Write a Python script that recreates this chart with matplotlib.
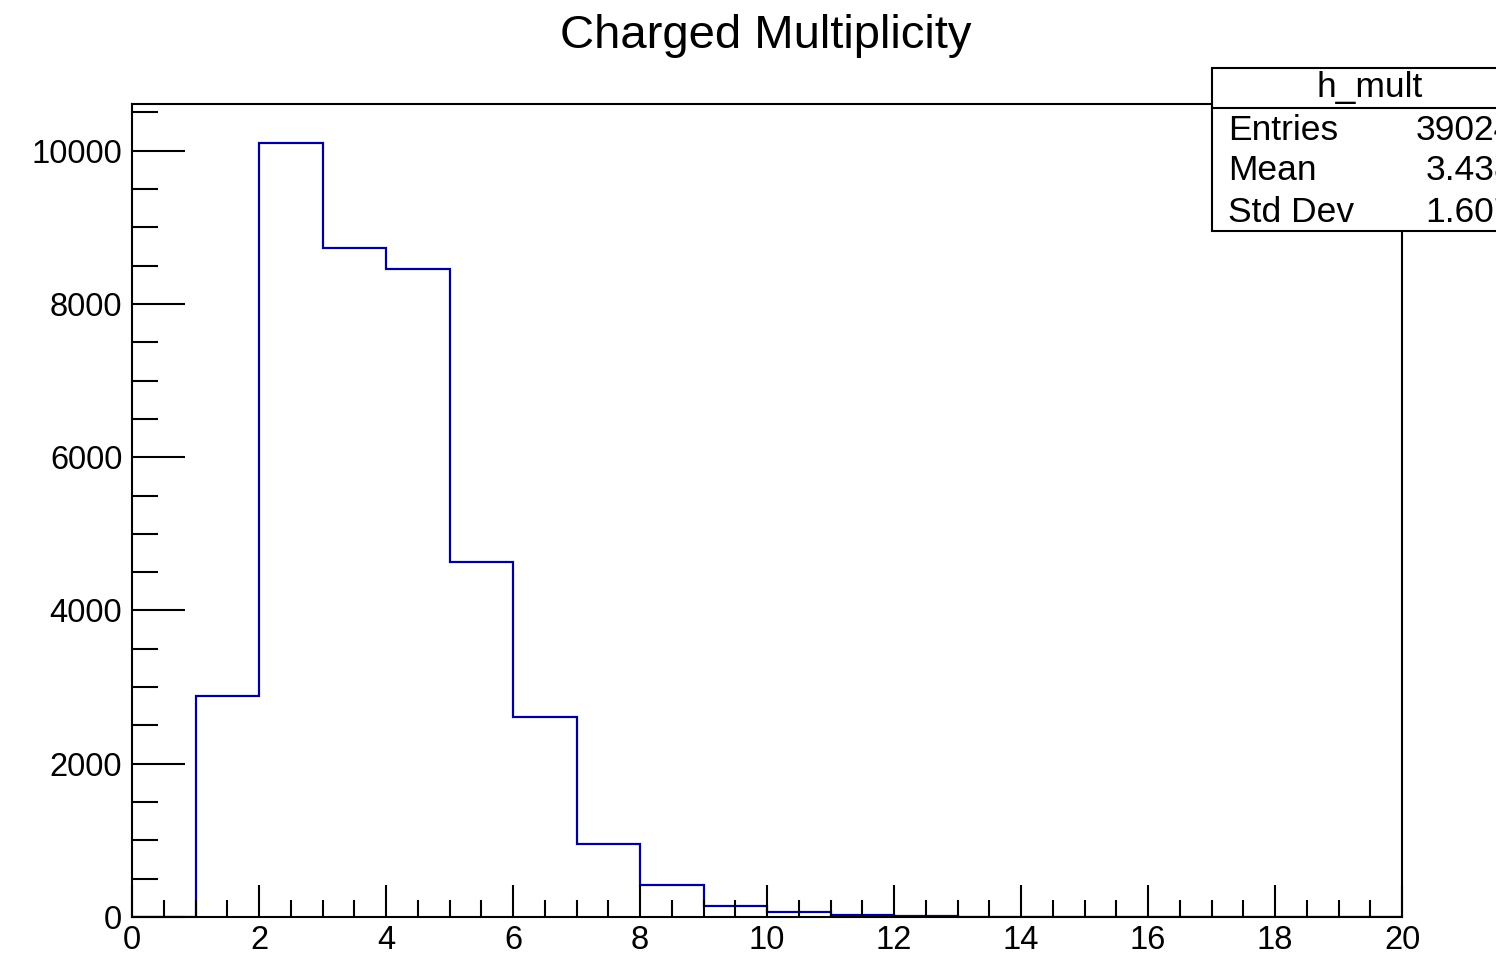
"""Charged multiplicity histogram, ROOT-style look."""

import matplotlib
matplotlib.use("Agg")
import matplotlib.pyplot as plt
import numpy as np
from matplotlib.patches import Rectangle
from matplotlib.ticker import MultipleLocator

plt.rcParams["font.family"] = ["Liberation Sans", "DejaVu Sans"]

# bin edges 0..20, unit width
bin_edges = list(range(0, 21))
counts = [0, 2885, 10104, 8734, 8460, 4634, 2611, 953, 418, 144,
          61, 30, 10, 0, 0, 0, 0, 0, 0, 0]

title = "Charged Multiplicity"
hist_name = "h_mult"
stat_names = ["Entries", "Mean", "Std Dev"]
stat_values = ["39024", "3.438", "1.607"]

W, H = 1496, 957
fig = plt.figure(figsize=(W / 100, H / 100), dpi=100)
ax = fig.add_axes([132 / W, 1 - 917 / H, (1402 - 132) / W, (917 - 104) / H])

ax.stairs(counts, bin_edges, color="#000099", lw=1.6, baseline=0)

ax.set_xlim(0, 20)
ax.set_ylim(0, max(counts) * 1.05)
ax.xaxis.set_major_locator(MultipleLocator(2))
ax.xaxis.set_minor_locator(MultipleLocator(0.5))
ax.yaxis.set_major_locator(MultipleLocator(2000))
ax.yaxis.set_minor_locator(MultipleLocator(500))
ax.tick_params(axis="both", which="both", direction="in", width=1.5,
               top=False, right=False, labelsize=23.5, color="black")
ax.tick_params(axis="x", which="major", length=23, pad=6)
ax.tick_params(axis="x", which="minor", length=12)
ax.tick_params(axis="y", which="major", length=38, pad=7)
ax.tick_params(axis="y", which="minor", length=19)
for s in ax.spines.values():
    s.set_linewidth(1.5)

fig.text(766 / W, 1 - 36 / H, title, ha="center", va="center", fontsize=34)

# stats box, runs off the right edge like the original canvas
x0, y0, x1, y1, yh = 1212, 68, 1528, 231, 108
fig.patches.append(Rectangle((x0 / W, 1 - y1 / H), (x1 - x0) / W, (y1 - y0) / H,
                             transform=fig.transFigure, facecolor="white",
                             edgecolor="black", lw=1.5, zorder=5))
fig.add_artist(plt.Line2D([x0 / W, x1 / W], [1 - yh / H, 1 - yh / H],
                          transform=fig.transFigure, color="black", lw=1.5, zorder=6))
fig.text((x0 + x1) / 2 / W, 1 - 87 / H, hist_name, ha="center", va="center",
         fontsize=25.5, zorder=7)
for i, (n, v) in enumerate(zip(stat_names, stat_values)):
    yy = 1 - (130 + i * 41) / H
    fig.text(1228 / W, yy, n, ha="left", va="center", fontsize=25.5, zorder=7)
    fig.text(1514 / W, yy, v, ha="right", va="center", fontsize=25.5, zorder=7)

fig.savefig("out.png", dpi=100)
